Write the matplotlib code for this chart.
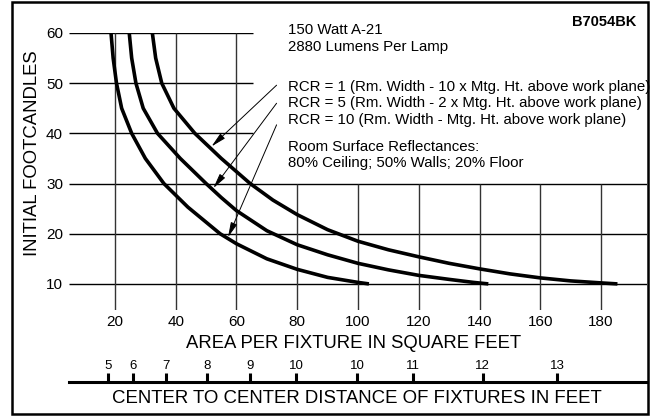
import matplotlib
matplotlib.use('Agg')
import matplotlib.pyplot as plt
from matplotlib.patches import Rectangle

W, H, DPI = 651, 417, 100

# ---- data ----
rcr10_area = [18.7, 19.4, 20.5, 22.2, 25.5, 30.0, 36.1, 44.0, 54.6, 60.0, 70.0, 80.0, 90.0, 100.0, 103.6]
rcr10_fc   = [60.0, 55.0, 50.0, 45.0, 40.0, 35.0, 30.0, 25.3, 20.0, 18.0, 15.0, 12.9, 11.3, 10.3, 10.0]

rcr5_area = [24.7, 25.5, 26.9, 29.3, 34.0, 41.5, 50.0, 55.0, 60.0, 70.0, 80.0, 90.0, 100.0, 110.0, 120.0, 130.0, 138.0, 142.9]
rcr5_fc   = [60.0, 55.0, 50.0, 45.0, 40.0, 35.0, 30.0, 27.2, 24.6, 20.6, 17.8, 15.8, 14.1, 12.8, 11.7, 10.9, 10.3, 10.0]

rcr1_area = [32.3, 33.4, 35.4, 39.4, 46.3, 55.0, 64.5, 72.0, 80.0, 90.0, 100.0, 110.0, 120.0, 130.0, 140.0, 150.0, 160.0, 170.0, 180.0, 185.4]
rcr1_fc   = [60.0, 55.0, 50.0, 45.0, 40.0, 35.0, 30.0, 26.7, 23.8, 20.8, 18.5, 16.8, 15.4, 14.1, 13.0, 12.0, 11.2, 10.6, 10.2, 10.0]

x_ticks = [20, 40, 60, 80, 100, 120, 140, 160, 180]
y_ticks = [10, 20, 30, 40, 50, 60]

# distance scale: tick positions (in sq ft) and their printed labels
dist_tick_area = [17.8, 26.0, 36.8, 50.2, 64.4, 79.6, 99.8, 118.0, 141.0, 165.6]
dist_tick_labels = ["5", "6", "7", "8", "9", "10", "10", "11", "12", "13"]

# arrows: (tip on curve) <- (start near text)
arrow_tip_area = [51.8, 52.4, 57.2]
arrow_tip_fc = [37.4, 29.1, 19.3]
arrow_start_area = [73.2, 73.2, 73.2]
arrow_start_fc = [49.6, 46.0, 41.7]

info_lines = [
    "150 Watt A-21",
    "2880 Lumens Per Lamp",
    "RCR = 1 (Rm. Width - 10 x Mtg. Ht. above work plane)",
    "RCR = 5 (Rm. Width - 2 x Mtg. Ht. above work plane)",
    "RCR = 10 (Rm. Width - Mtg. Ht. above work plane)",
    "Room Surface Reflectances:",
    "80% Ceiling; 50% Walls; 20% Floor",
]
info_baselines_px = [34.1, 50.8, 90.8, 107.5, 124.1, 150.8, 167.5]

# ---- figure ----
plt.rcParams['font.family'] = ['Liberation Sans', 'DejaVu Sans']

fig = plt.figure(figsize=(W / DPI, H / DPI), dpi=DPI)
fig.patch.set_facecolor('white')

def fx(px):
    return px / W

def fy(py):
    return 1 - py / H

ax_l, ax_r, ax_t, ax_b = 69.4, 646.6, 33.0, 310.0
ax = fig.add_axes([fx(ax_l), fy(ax_b), (ax_r - ax_l) / W, (ax_b - ax_t) / H])
ax.set_xlim(5, 195)
ax.set_ylim(4.8, 60)
for s in ax.spines.values():
    s.set_visible(False)
ax.patch.set_alpha(0)

# grid
for y in y_ticks:
    if y >= 40:
        ax.hlines(y, 5, 65.4, color='black', lw=1.0, zorder=1)
    else:
        ax.hlines(y, 5, 195, color='black', lw=1.0, zorder=1)
for x in x_ticks:
    top = 60 if x <= 60 else 30
    ax.vlines(x, 4.8, top, color='#333333', lw=1.0, zorder=1)

# curves
for a, f in [(rcr10_area, rcr10_fc), (rcr5_area, rcr5_fc), (rcr1_area, rcr1_fc)]:
    ax.plot(a, f, color='black', lw=2.6, solid_capstyle='butt', solid_joinstyle='round', zorder=3)

# arrows
for ta, tf, sa, sf in zip(arrow_tip_area, arrow_tip_fc, arrow_start_area, arrow_start_fc):
    ax.annotate('', xy=(ta, tf), xytext=(sa, sf),
                arrowprops=dict(arrowstyle='-|>,head_length=0.9,head_width=0.2',
                                color='black', lw=0.7, mutation_scale=10,
                                shrinkA=0, shrinkB=0), zorder=4)

ax.set_xticks(x_ticks)
ax.set_yticks(y_ticks)
ax.tick_params(axis='both', length=0, labelsize=11)
ax.tick_params(axis='y', pad=4.6)
ax.tick_params(axis='x', pad=3.5)

# distance scale
line_y = 382.0
ax2 = fig.add_axes([fx(ax_l), fy(line_y) - 0.01, (ax_r - ax_l) / W, 0.01])
ax2.set_xlim(5, 195)
ax2.patch.set_alpha(0)
for k in ['left', 'right', 'bottom']:
    ax2.spines[k].set_visible(False)
ax2.spines['top'].set_linewidth(2.2)
ax2.set_yticks([])
ax2.xaxis.tick_top()
ax2.set_xticks(dist_tick_area)
ax2.set_xticklabels(dist_tick_labels)
ax2.tick_params(axis='x', direction='out', length=6.5, width=2.2, labelsize=9.5, pad=1)

# axis titles
fig.text(fx(354), fy(348.3), 'AREA PER FIXTURE IN SQUARE FEET', ha='center', va='baseline', fontsize=13.3)
fig.text(fx(357), fy(402.7), 'CENTER TO CENTER DISTANCE OF FIXTURES IN FEET', ha='center', va='baseline', fontsize=13.4)
fig.text(fx(32.5), fy(153.5), 'INITIAL FOOTCANDLES', rotation=90, ha='center', va='center', fontsize=13.3)

# info text
for line, b in zip(info_lines, info_baselines_px):
    fig.text(fx(288), fy(b), line, ha='left', va='baseline', fontsize=10.8)
fig.text(fx(636), fy(26.5), 'B7054BK', ha='right', va='baseline', fontsize=10.5, fontweight='bold')

# frame
fig.patches.append(Rectangle((fx(12), fy(413.5)), (648 - 12) / W, (413.5 - 1.5) / H,
                             transform=fig.transFigure, fill=False, lw=1.8, ec='black'))

fig.savefig('out.png', dpi=DPI, facecolor='white')
